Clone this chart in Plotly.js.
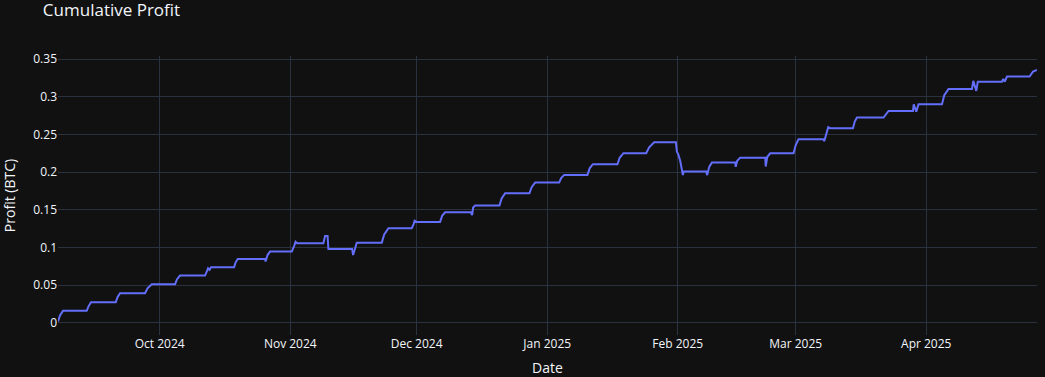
<!DOCTYPE html>
<html>
<head>
<meta charset="utf-8">
<script src="https://cdn.plot.ly/plotly-3.0.1.min.js"></script>
<style>html,body{margin:0;padding:0;background:#111111;}#chart{width:1045px;height:377px;}</style>
</head>
<body>
<div id="chart"></div>
<script>
const dates = [
"2024-09-06 20:17","2024-09-07 07:42","2024-09-08 00:48","2024-09-13 15:53","2024-09-14 02:08","2024-09-14 16:23",
"2024-09-20 13:12","2024-09-20 23:27","2024-09-21 13:42","2024-09-27 12:13","2024-09-28 02:27","2024-09-29 02:24",
"2024-10-04 15:13","2024-10-05 02:37","2024-10-05 19:42","2024-10-11 18:13","2024-10-12 05:37","2024-10-12 11:20",
"2024-10-12 19:52","2024-10-13 04:25","2024-10-18 15:32","2024-10-19 00:04","2024-10-19 12:37","2024-10-26 00:14",
"2024-10-26 03:04","2024-10-26 14:28","2024-10-27 04:44","2024-11-01 08:25","2024-11-01 21:32","2024-11-02 06:06",
"2024-11-02 14:38","2024-11-08 20:33","2024-11-09 06:14","2024-11-09 20:30","2024-11-10 01:03","2024-11-15 16:09",
"2024-11-15 21:50","2024-11-16 09:14","2024-11-16 18:56","2024-11-22 17:27","2024-11-23 06:33","2024-11-24 07:03",
"2024-11-29 20:27","2024-11-30 06:42","2024-11-30 12:24","2024-12-01 00:56","2024-12-06 13:45","2024-12-07 01:09",
"2024-12-07 18:16","2024-12-13 20:46","2024-12-14 04:11","2024-12-14 09:52","2024-12-14 21:16","2024-12-20 15:48",
"2024-12-21 04:19","2024-12-22 00:16","2024-12-27 18:48","2024-12-28 07:19","2024-12-29 03:17","2025-01-03 20:05",
"2025-01-04 07:29","2025-01-05 00:35","2025-01-10 13:23","2025-01-11 01:57","2025-01-11 20:11","2025-01-17 16:24",
"2025-01-18 04:57","2025-01-19 02:36","2025-01-24 12:00","2025-01-25 05:05","2025-01-26 09:36","2025-01-31 13:18",
"2025-01-31 18:59","2025-02-01 02:24","2025-02-01 13:48","2025-02-02 05:11","2025-02-02 09:45","2025-02-07 18:00",
"2025-02-07 23:43","2025-02-08 11:07","2025-02-09 02:30","2025-02-14 15:19","2025-02-14 18:10","2025-02-15 02:43",
"2025-02-15 19:49","2025-02-21 18:19","2025-02-21 21:10","2025-02-22 05:43","2025-02-22 22:49","2025-02-28 11:38",
"2025-03-01 00:10","2025-03-01 16:08","2025-03-07 14:38","2025-03-07 18:37","2025-03-08 06:01","2025-03-08 17:25",
"2025-03-09 04:49","2025-03-14 14:12","2025-03-15 00:29","2025-03-15 13:00","2025-03-21 20:38","2025-03-22 09:12",
"2025-03-23 01:09","2025-03-28 20:14","2025-03-29 00:48","2025-03-29 15:03","2025-03-30 04:09","2025-04-04 17:33",
"2025-04-05 06:39","2025-04-06 07:09","2025-04-11 20:33","2025-04-12 03:58","2025-04-12 21:03","2025-04-13 05:36",
"2025-04-18 23:33","2025-04-19 06:58","2025-04-19 15:30","2025-04-20 04:02","2025-04-25 12:52","2025-04-26 08:15",
"2025-04-27 07:03"
];
const profit = [
0.002,0.010,0.016,0.016,0.022,0.0274,
0.0274,0.034,0.0394,0.0394,0.046,0.0513,
0.0513,0.058,0.0628,0.0628,0.069,0.0725,
0.0705,0.0739,0.0739,0.080,0.0849,0.0849,
0.0815,0.090,0.0946,0.0946,0.102,0.1075,
0.1057,0.1057,0.1154,0.1154,0.0981,0.0981,
0.090,0.100,0.1065,0.1065,0.117,0.1256,
0.1256,0.131,0.1355,0.134,0.134,0.142,
0.1468,0.1468,0.143,0.153,0.1556,0.1556,
0.165,0.172,0.172,0.180,0.1861,0.1861,
0.192,0.1963,0.1963,0.205,0.2105,0.2105,
0.219,0.2251,0.2251,0.233,0.2397,0.2397,
0.227,0.224,0.215,0.196,0.2007,0.2007,
0.196,0.207,0.2126,0.2126,0.207,0.215,
0.2192,0.2192,0.2074,0.220,0.225,0.225,
0.236,0.2436,0.2436,0.241,0.252,0.2595,
0.2582,0.2582,0.267,0.2723,0.2723,0.277,
0.2812,0.2812,0.290,0.280,0.290,0.290,
0.302,0.3103,0.3103,0.321,0.3077,0.320,
0.320,0.3235,0.320,0.3267,0.3267,0.3333,
0.3355
];
const chartTitle = "Cumulative Profit";
const xTitle = "Date";
const yTitle = "Profit (BTC)";

const trace = {
  x: dates, y: profit, type: 'scatter', mode: 'lines',
  line: {color: '#636efa', width: 2}, name: 'Cumulative Profit'
};
const layout = {
  width: 1045, height: 377,
  paper_bgcolor: 'rgb(17,17,17)', plot_bgcolor: 'rgb(17,17,17)',
  font: {family: '"Open Sans", verdana, arial, sans-serif', color: '#f2f5fa', size: 12},
  margin: {l: 58, r: 8, t: 56, b: 42},
  title: {text: chartTitle, x: 0.041, xanchor: 'left', y: 0.99, yanchor: 'top', xref: 'container', yref: 'container',
          font: {size: 17, color: '#f2f5fa'}},
  showlegend: false,
  xaxis: {
    type: 'date', title: {text: xTitle, standoff: 12},
    gridcolor: '#2a3240', showline: false, zeroline: false,
    tickformat: '%b %Y', dtick: 'M1', tick0: '2024-10-01', ticks: ''
  },
  yaxis: {
    title: {text: yTitle, standoff: 16},
    range: [-0.016, 0.354],
    gridcolor: '#2a3240', zerolinecolor: '#2a3240', zerolinewidth: 1, zeroline: true,
    dtick: 0.05, ticks: ''
  }
};
Plotly.newPlot('chart', [trace], layout, {displayModeBar: false, staticPlot: true});
</script>
</body>
</html>
